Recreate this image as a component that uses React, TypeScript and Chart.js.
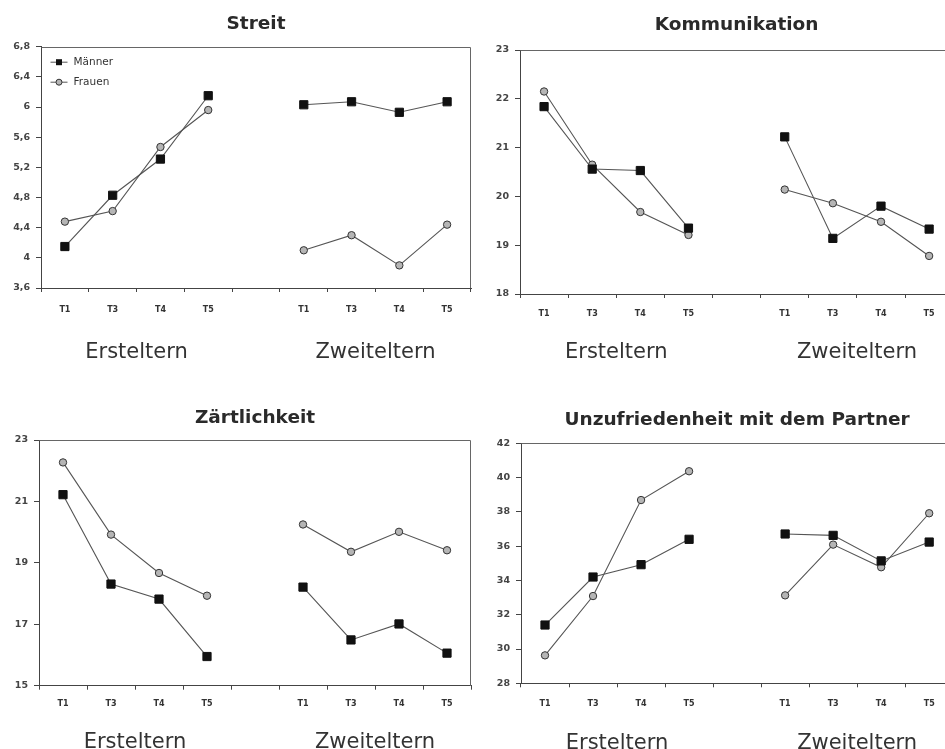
import React, { useEffect, useRef } from 'react';
import { Chart, registerables } from 'chart.js';

Chart.register(...registerables);

// ---------- data ----------
const timeLabels = ['T1', 'T3', 'T4', 'T5', '', 'T1', 'T3', 'T4', 'T5'];
const groupLabels = ['Ersteltern', 'Zweiteltern'];
const groupPositions = [1.5, 6.5];
const seriesNames = ['Männer', 'Frauen'];

const streitMaenner = [4.15, 4.83, 5.31, 6.15, null, 6.03, 6.07, 5.93, 6.07];
const streitFrauen = [4.48, 4.62, 5.47, 5.96, null, 4.1, 4.3, 3.9, 4.44];
const kommMaenner = [21.84, 20.56, 20.53, 19.35, null, 21.22, 19.14, 19.8, 19.33];
const kommFrauen = [22.15, 20.65, 19.68, 19.21, null, 20.14, 19.86, 19.48, 18.78];
const zaertMaenner = [21.22, 18.31, 17.82, 15.95, null, 18.21, 16.49, 17.01, 16.06];
const zaertFrauen = [22.27, 19.92, 18.67, 17.93, null, 20.25, 19.36, 20.01, 19.41];
const unzMaenner = [31.4, 34.2, 34.92, 36.4, null, 36.71, 36.63, 35.14, 36.24];
const unzFrauen = [29.63, 33.09, 38.69, 40.37, null, 33.13, 36.09, 34.77, 37.92];

const streitRange = [3.6, 6.8, 0.4];
const kommRange = [18, 23, 1];
const zaertRange = [15, 23, 2];
const unzRange = [28, 42, 2];

const titleStreit = 'Streit';
const titleKomm = 'Kommunikation';
const titleZaert = 'Zärtlichkeit';
const titleUnz = 'Unzufriedenheit mit dem Partner';

// ---------- layout ----------
type Layout = {
  left: number; top: number; w: number; h: number;
  yW: number; padR: number; padB: number;
  tTop: number; tBot: number;
  xH: number; xPad: number; x2H: number; x2Pad: number;
};

const L1: Layout = { left: 0, top: 0, w: 480, h: 365, yW: 41, padR: 9, padB: 2, tTop: 12.9, tBot: 11.6, xH: 30, xPad: 13, x2H: 45, x2Pad: 21.5 };
const L2: Layout = { left: 475, top: 0, w: 485, h: 365, yW: 45, padR: 5, padB: 1, tTop: 13.9, tBot: 13.9, xH: 30, xPad: 11, x2H: 40, x2Pad: 16 };
const L3: Layout = { left: 0, top: 395, w: 480, h: 365, yW: 39, padR: 9, padB: 4.3, tTop: 11.9, tBot: 10.9, xH: 30, xPad: 9.6, x2H: 40, x2Pad: 13.8 };
const L4: Layout = { left: 475, top: 395, w: 485, h: 365, yW: 46, padR: 4, padB: 4.7, tTop: 13.9, tBot: 12.2, xH: 30, xPad: 12, x2H: 42, x2Pad: 17.2 };

const LINE = '#555555';
const AXIS = '#444444';
const TEXT = '#333333';

const framePlugin = {
  id: 'frame',
  beforeDatasetsDraw(chart: any) {
    const { ctx, chartArea } = chart;
    const l = Math.round(chartArea.left) + 0.5;
    const r = Math.round(chartArea.right) - 0.5;
    const t = Math.round(chartArea.top) + 0.5;
    const b = Math.round(chartArea.bottom);
    ctx.save();
    ctx.strokeStyle = '#666';
    ctx.lineWidth = 1;
    ctx.beginPath();
    ctx.moveTo(l, t);
    ctx.lineTo(r, t);
    ctx.lineTo(r, b);
    ctx.stroke();
    ctx.restore();
  },
};

// legend drawn inside the chart area (top-left), from the dataset styles
const insideLegendPlugin = {
  id: 'insideLegend',
  afterDatasetsDraw(chart: any, _args: any, opts: any) {
    if (!opts || !opts.show) return;
    const { ctx, chartArea } = chart;
    const x0 = chartArea.left + 9.5;
    ctx.save();
    chart.data.datasets.forEach((ds: any, i: number) => {
      const y = chartArea.top + 15.5 + i * 20;
      ctx.strokeStyle = ds.borderColor;
      ctx.lineWidth = 1;
      ctx.beginPath();
      ctx.moveTo(x0, y);
      ctx.lineTo(x0 + 17, y);
      ctx.stroke();
      const cx = x0 + 8.5;
      ctx.fillStyle = ds.pointBackgroundColor;
      ctx.strokeStyle = ds.pointBorderColor;
      if (ds.pointStyle === 'rect') {
        ctx.fillRect(cx - 3, y - 3, 6, 6);
      } else {
        ctx.beginPath();
        ctx.arc(cx, y, 3, 0, Math.PI * 2);
        ctx.fill();
        ctx.stroke();
      }
      ctx.fillStyle = TEXT;
      ctx.font = '10.5px "DejaVu Sans"';
      ctx.textBaseline = 'middle';
      ctx.textAlign = 'left';
      ctx.fillText(ds.label, x0 + 23, y);
    });
    ctx.restore();
  },
};

type PanelProps = {
  layout: Layout;
  title: string;
  men: (number | null)[];
  women: (number | null)[];
  range: number[];
  legend?: boolean;
  decimal?: boolean;
};

function Panel({ layout, title, men, women, range, legend, decimal }: PanelProps) {
  const ref = useRef<HTMLCanvasElement>(null);
  useEffect(() => {
    if (!ref.current) return;
    const chart = new Chart(ref.current, {
      type: 'line',
      data: {
        labels: timeLabels,
        datasets: [
          {
            label: seriesNames[0],
            data: men,
            borderColor: LINE,
            borderWidth: 1.1,
            pointStyle: 'rect',
            pointRadius: 5.8,
            pointBackgroundColor: '#111',
            pointBorderColor: '#111',
            pointBorderWidth: 1,
            spanGaps: false,
            tension: 0,
          },
          {
            label: seriesNames[1],
            data: women,
            borderColor: LINE,
            borderWidth: 1.1,
            pointStyle: 'circle',
            pointRadius: 3.7,
            pointBackgroundColor: '#b5b5b5',
            pointBorderColor: '#333',
            pointBorderWidth: 1,
            spanGaps: false,
            tension: 0,
          },
        ],
      },
      options: {
        animation: false,
        responsive: false,
        devicePixelRatio: 1,
        events: [],
        layout: { padding: { left: 0, top: 0, right: layout.padR, bottom: layout.padB } },
        plugins: {
          tooltip: { enabled: false },
          legend: { display: false },
          insideLegend: { show: !!legend },
          title: {
            display: true,
            text: title,
            fullSize: false,
            color: '#2a2a2a',
            font: { family: 'DejaVu Sans', size: 18.5, weight: 'bold', lineHeight: 1.2 },
            padding: { top: layout.tTop, bottom: layout.tBot },
          },
        },
        scales: {
          x: {
            type: 'category',
            offset: true,
            grid: { offset: true, drawOnChartArea: false, tickLength: 4, color: AXIS },
            border: { color: AXIS, width: 1 },
            ticks: {
              color: TEXT,
              padding: layout.xPad,
              autoSkip: false,
              maxRotation: 0,
              font: { family: 'DejaVu Sans', size: 8, weight: 'bold' },
            },
            afterFit: (s: any) => { s.height = layout.xH; },
          },
          x2: {
            type: 'linear',
            position: 'bottom',
            min: -0.5,
            max: 8.5,
            weight: 1,
            grid: { display: false, drawTicks: false, tickLength: 0 },
            border: { display: false },
            ticks: {
              color: TEXT,
              padding: layout.x2Pad,
              autoSkip: false,
              maxRotation: 0,
              font: { family: 'DejaVu Sans', size: 21 },
              callback: (v: any) => {
                const idx = groupPositions.indexOf(Number(v));
                return idx >= 0 ? groupLabels[idx] : '';
              },
            },
            afterBuildTicks: (s: any) => { s.ticks = groupPositions.map((v) => ({ value: v })); },
            afterFit: (s: any) => { s.height = layout.x2H; },
          },
          y: {
            min: range[0],
            max: range[1],
            grid: { drawOnChartArea: false, tickLength: 5, color: AXIS },
            border: { color: AXIS, width: 1 },
            ticks: {
              stepSize: range[2],
              color: '#444',
              padding: 6,
              font: { family: 'DejaVu Sans', size: 9.5, weight: 'bold' },
              callback: (v: any) => {
                const r = Math.round(Number(v) * 10) / 10;
                return decimal ? String(r).replace('.', ',') : String(r);
              },
            },
            afterFit: (s: any) => { s.width = layout.yW; },
          },
        },
      },
      plugins: [framePlugin, insideLegendPlugin],
    } as any);
    return () => chart.destroy();
  }, []);
  return (
    <canvas
      ref={ref}
      width={layout.w}
      height={layout.h}
      style={{ position: 'absolute', left: layout.left, top: layout.top, width: layout.w, height: layout.h }}
    />
  );
}

export default function App() {
  return (
    <div style={{ position: 'absolute', left: 0, top: 0, width: 945, height: 749, overflow: 'hidden', background: '#fff' }}>
      <Panel layout={L1} title={titleStreit} men={streitMaenner} women={streitFrauen} range={streitRange} legend decimal />
      <Panel layout={L2} title={titleKomm} men={kommMaenner} women={kommFrauen} range={kommRange} />
      <Panel layout={L3} title={titleZaert} men={zaertMaenner} women={zaertFrauen} range={zaertRange} />
      <Panel layout={L4} title={titleUnz} men={unzMaenner} women={unzFrauen} range={unzRange} />
    </div>
  );
}
